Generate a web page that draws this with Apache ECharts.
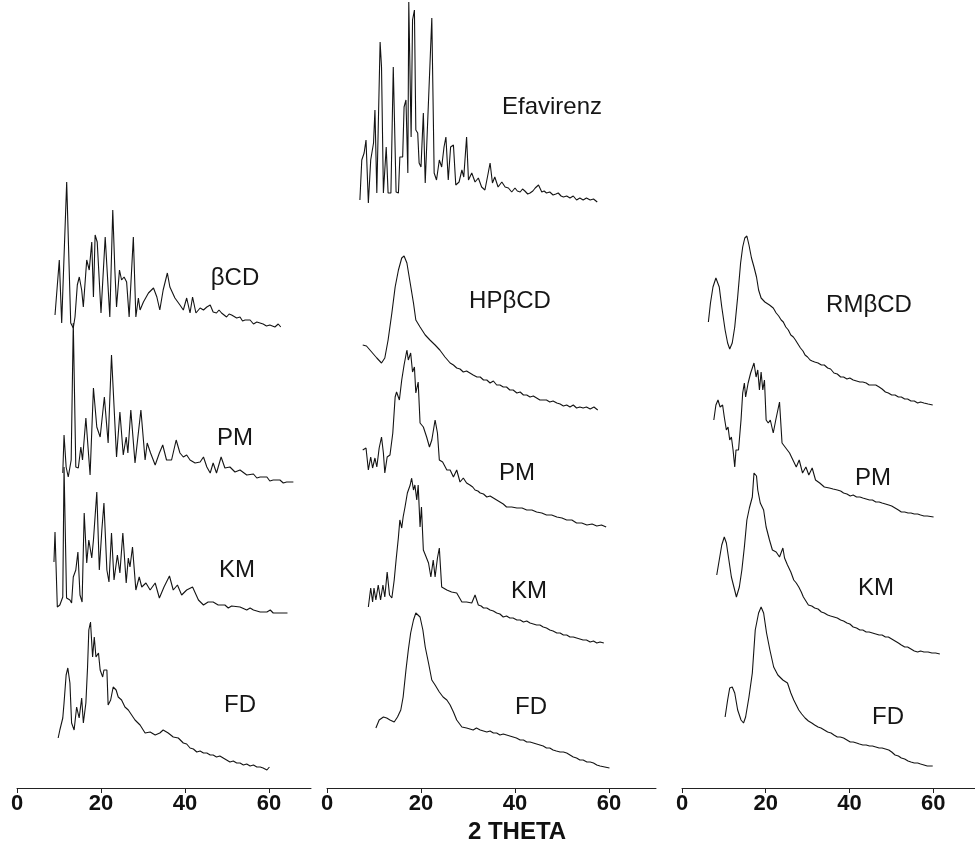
<!DOCTYPE html>
<html><head><meta charset="utf-8">
<script src="https://cdn.jsdelivr.net/npm/echarts@6/dist/echarts.min.js"></script>
<style>html,body{margin:0;padding:0;background:#fff}#c{width:975px;height:848px}</style>
</head><body><div id="c"></div><script>
// ---- axis ticks ----
const tickLabels = [0, 20, 40, 60];
const axisLabelText = '2 THETA';

// ---- data: [2θ (deg), relative intensity] ----
// Left panel (βCD)
const bCD = [[9.05,15],[10.07,70],[10.64,7],[11.83,148],[12.79,7],[13.4,2],[13.81,13],[14.36,45],[14.83,53],[15.4,40],[15.79,23],[16.6,70],[17.2,60],[17.8,88],[18.2,33],[18.6,95],[19.1,88],[20,17],[21,93],[21.4,93],[22.1,13],[22.8,120],[23.3,60],[23.7,23],[24.4,60],[24.9,50],[25.5,53],[26.1,48],[26.7,13],[27.7,93],[28.3,13],[28.9,32],[29.3,20],[30.1,28],[31.3,37],[32.5,42],[33.3,33],[34,20],[34.8,40],[35.8,57],[36.4,43],[36.8,45],[37.6,32],[38.8,25],[39.6,20],[40.4,32],[41.2,17],[41.8,33],[42.6,17],[43.6,22],[44.4,20],[45.2,23],[46,25],[46.7,18],[47.5,17],[48.1,20],[48.7,17],[49.9,13],[50.5,16],[51.1,15],[52.3,12],[53.1,13],[53.7,9],[54.3,10],[55.5,10],[56.3,6],[57.1,8],[58.6,6],[59.4,4],[60.2,5],[61.4,3],[62.2,6],[62.8,3]];
const bPM = [[10.9,12],[11.2,50],[11.7,18],[12.2,8],[12.9,25],[13.4,162],[14,18],[14.6,17],[15.2,38],[15.6,25],[16.4,67],[17.4,10],[18.2,97],[19,58],[19.8,48],[20.8,88],[21.7,42],[22.5,130],[22.9,128],[23.7,28],[24.5,73],[25.3,30],[26,48],[26.4,32],[27.1,75],[28.1,22],[29.5,75],[30.5,25],[31,42],[31.8,32],[32.9,20],[33.9,32],[34.7,40],[35.6,25],[36.8,25],[37.9,45],[38.8,32],[39.6,28],[40.4,30],[41.2,25],[42.4,22],[43.6,23],[44.4,28],[45.2,18],[46,12],[46.7,22],[47.5,12],[48.6,28],[49.5,17],[50.7,18],[51.9,13],[53.1,15],[54.7,10],[56.3,11],[57.1,7],[57.9,8],[59.5,8],[60.2,4],[61,5],[62.6,5],[63.4,2],[64.2,3],[65.8,3]];
const bKM = [[8.8,50],[9.05,80],[9.6,5],[10.2,7],[10.9,15],[11.2,145],[11.8,14],[12.6,12],[13,9],[13.4,35],[14,42],[14.5,60],[15,17],[15.5,10],[16,99],[16.6,49],[17.1,72],[17.8,54],[18.2,72],[19,120],[19.6,42],[20.2,82],[20.7,109],[21.4,42],[21.9,30],[22.5,79],[23.1,32],[23.9,57],[24.5,39],[25.2,79],[26,29],[26.5,54],[26.9,45],[27.5,65],[28.3,22],[29.1,35],[29.7,25],[30.7,29],[31.7,22],[32.9,29],[33.9,14],[35,25],[36.3,36],[37.2,22],[38.2,27],[39.2,17],[40.4,22],[41.8,25],[43.2,12],[44.4,7],[45.5,10],[46.7,10],[47.9,7],[49.5,7],[50.3,4],[51.1,6],[53.1,5],[54.7,2],[55.5,4],[56.3,2],[57.9,0],[59.5,0],[60.3,2],[61,-1],[62.6,-1],[64.4,-1]];
const bFD = [[9.8,32],[10.2,40],[10.9,52],[11.2,67],[11.7,95],[12.1,102],[12.6,87],[13,47],[13.6,40],[14.2,63],[14.8,52],[15.4,72],[15.8,47],[16.4,67],[16.8,103],[17.1,140],[17.5,148],[18,113],[18.4,133],[18.8,113],[19.4,117],[19.8,100],[20.4,93],[20.7,100],[21.4,100],[21.7,65],[22.3,70],[22.9,83],[23.6,80],[24.1,73],[24.9,70],[25.7,63],[26.5,60],[27.3,55],[28.1,50],[29.3,45],[30.5,37],[31.7,38],[32.9,35],[34,37],[34.8,40],[36,37],[37.2,33],[38.4,32],[39.6,27],[40.4,26],[41.2,22],[42,21],[42.8,18],[43.6,19],[44.4,17],[45.2,17],[46,15],[46.7,15],[47.5,13],[48.3,14],[49.1,12],[49.9,10],[50.7,8],[51.5,9],[52.3,7],[53.1,7],[53.9,5],[54.7,6],[55.5,4],[56.3,5],[57.1,3],[57.9,3],[58.6,2],[59.5,0],[60.1,3]];
// Middle panel (Efavirenz / HPβCD)
const efv = [[7.0,2],[7.4,42],[7.9,49],[8.3,62],[8.8,-1],[9.3,42],[9.9,59],[10.2,92],[10.6,9],[11.3,160],[11.6,135],[12,9],[12.6,55],[13,9],[13.6,9],[14.1,135],[14.7,10],[15.2,9],[15.5,45],[16.1,45],[16.4,95],[16.8,102],[17.2,29],[17.4,200],[17.9,65],[18.2,182],[18.6,192],[18.9,72],[19.3,69],[19.6,39],[20,35],[20.5,89],[20.9,19],[21.3,19],[22.3,184],[22.8,29],[23.3,22],[23.9,42],[24.4,35],[24.9,55],[25.3,65],[25.8,22],[26.3,55],[26.9,57],[27.4,17],[28.1,20],[28.7,32],[29.1,25],[29.7,65],[30.1,22],[30.8,29],[31.5,20],[32.2,24],[32.9,15],[33.6,12],[34.3,29],[34.7,39],[35.2,19],[35.7,25],[36.4,15],[37.2,20],[37.9,15],[38.6,14],[39.3,10],[40,14],[40.5,11],[41.1,10],[41.6,13],[42.1,11],[42.7,8],[43.2,9],[43.8,11],[44.3,14],[45,17],[45.7,10],[46.2,11],[46.7,9],[47.4,10],[48.1,7],[48.7,8],[49.2,9],[49.8,6],[50.3,5],[51,6],[51.7,4],[52.4,6],[53.1,2],[53.8,4],[54.5,2],[55.2,4],[56,2],[56.7,3],[57.5,0]];
const hpPure = [[7.6,65],[8.4,64],[9.5,58],[10.6,52],[11.6,47],[12.3,52],[13,70],[13.8,97],[14.5,123],[15.2,140],[15.9,152],[16.4,154],[17,147],[17.7,127],[18.4,107],[18.9,90],[19.8,83],[20.9,75],[21.9,70],[23,65],[24,60],[25.1,53],[26.2,47],[26.9,45],[27.6,42],[28.3,41],[29,38],[29.7,39],[30.4,37],[31.1,35],[31.9,33],[32.6,33],[33.3,30],[34,30],[34.7,27],[35.4,29],[36.1,25],[36.8,25],[37.5,23],[38.2,23],[38.9,20],[39.6,20],[40.4,17],[41.1,18],[41.8,15],[42.5,15],[43.2,13],[43.9,14],[44.6,12],[45.3,10],[46,10],[46.7,10],[47.4,8],[48.1,9],[48.9,7],[49.6,6],[50.3,4],[51,5],[51.7,3],[52.4,5],[53.1,2],[53.8,3],[54.5,2],[55.2,3],[56,1],[56.8,3],[57.6,0]];
const hpPM = [[7.6,78],[8.3,80],[8.8,58],[9.3,71],[9.7,60],[10.2,70],[10.6,61],[11.1,80],[11.6,91],[12,75],[12.3,55],[12.8,71],[13.4,73],[14,95],[14.5,131],[14.8,136],[15.4,128],[15.9,148],[16.4,163],[17,178],[17.3,168],[17.8,175],[18.2,156],[18.6,161],[18.9,135],[19.4,146],[19.8,105],[20.5,101],[21.2,91],[21.8,81],[22.3,88],[23,108],[23.5,95],[23.9,68],[24.6,66],[25.5,58],[26.2,58],[26.9,51],[27.6,58],[28.3,46],[29,50],[29.7,45],[30.4,43],[31,41],[31.5,38],[32.1,37],[32.6,35],[33.3,34],[34,31],[34.7,32],[35.4,30],[36.1,28],[36.8,26],[37.5,24],[38.2,21],[39.3,21],[40.4,20],[41.5,20],[42.5,18],[43.6,18],[44.6,16],[45.7,15],[46.7,13],[47.8,13],[48.9,11],[50,10],[51,8],[52.1,8],[53.1,5],[54.2,5],[55.3,3],[56.4,4],[57.4,2],[58.4,3],[59.4,1]];
const hpKM = [[8.8,38],[9.3,57],[9.7,43],[10,57],[10.4,45],[10.9,60],[11.4,45],[11.9,60],[12.3,48],[12.8,73],[13.3,50],[13.8,47],[14.3,65],[14.7,85],[15.2,108],[15.5,125],[15.9,117],[16.2,128],[16.6,138],[17.1,152],[17.7,160],[18,167],[18.4,155],[18.7,160],[19.1,145],[19.4,160],[19.8,118],[20.1,138],[20.5,95],[21.1,88],[21.6,82],[22.1,68],[22.6,85],[23,68],[23.5,87],[23.9,97],[24.4,58],[25.5,55],[26.5,53],[27.6,52],[28.7,43],[29.7,43],[30.8,42],[31.5,50],[32.2,40],[32.8,39],[33.3,37],[34,37],[34.7,35],[35.4,34],[36.1,32],[36.8,31],[37.5,28],[38.2,29],[38.9,27],[39.6,27],[40.4,25],[41.1,25],[41.8,23],[42.5,24],[43.2,22],[43.9,21],[44.6,20],[45.3,20],[46,18],[46.7,17],[47.4,15],[48.1,14],[48.9,12],[49.6,12],[50.3,10],[51,10],[51.7,8],[52.4,8],[53.1,7],[53.8,6],[54.5,5],[55.2,5],[56,3],[56.7,4],[57.4,2],[58.1,3],[58.9,2]];
const hpFD = [[10.4,42],[11.1,50],[12,53],[12.7,52],[13.4,50],[14.3,48],[15,53],[15.7,60],[16.2,73],[16.8,100],[17.3,120],[17.8,137],[18.4,150],[18.9,157],[19.3,158],[19.8,153],[20.4,140],[20.9,123],[21.6,107],[22.3,90],[23,85],[23.9,78],[24.7,73],[25.5,70],[26.2,65],[26.9,58],[27.6,50],[28.7,43],[29.7,42],[30.4,41],[31.1,40],[31.8,42],[32.6,40],[33.3,39],[34,38],[34.7,39],[35.4,37],[36.1,37],[36.8,35],[37.5,36],[38.2,35],[38.9,34],[39.6,33],[40.3,32],[41.1,30],[41.8,30],[42.5,28],[43.2,28],[43.9,27],[44.6,26],[45.3,25],[46,24],[46.7,22],[47.4,22],[48.1,20],[48.8,19],[49.6,18],[50.3,18],[51,17],[51.7,15],[52.4,13],[53.1,12],[53.8,10],[54.5,10],[55.3,8],[56,8],[56.7,7],[57.4,5],[58.1,4],[59.1,3],[60.1,2]];
// Right panel (RMβCD)
const rmPure = [[6.3,84],[6.8,103],[7.4,119],[8.1,128],[8.9,119],[9.5,99],[10.3,76],[10.9,63],[11.4,57],[12,63],[12.6,79],[13.3,109],[14,143],[14.5,159],[15,168],[15.5,170],[16,161],[16.6,148],[17.2,139],[17.8,129],[18.3,116],[18.9,108],[19.8,104],[20.9,101],[21.8,98],[22.5,93],[23.1,90],[23.7,86],[24.2,84],[24.8,79],[25.4,76],[26,71],[26.6,69],[27.1,66],[27.7,62],[28.3,58],[28.9,55],[29.4,51],[30,49],[30.6,46],[31.1,45],[31.7,44],[32.5,43],[33.3,41],[34,41],[34.8,38],[35.5,37],[36.3,33],[37.1,32],[37.9,29],[38.6,29],[39.4,27],[40.1,28],[40.9,26],[41.7,25],[42.5,24],[43.2,24],[44,23],[44.7,21],[45.5,21],[46.3,21],[47.1,19],[47.8,17],[48.6,14],[49.3,13],[50.1,11],[50.9,11],[51.7,9],[52.4,9],[53.2,7],[53.9,7],[54.7,5],[55.5,5],[56.3,3],[57,4],[57.8,3],[58.8,2],[59.9,1]];
const rmPM = [[7.6,100],[8.1,115],[8.6,120],[9.1,113],[9.7,115],[10.1,103],[10.6,90],[11,93],[11.4,80],[11.8,83],[12.2,70],[12.6,53],[12.9,70],[13.5,70],[14.1,100],[14.5,127],[14.9,137],[15.2,123],[15.8,137],[16.4,147],[17.2,157],[17.7,143],[18.1,150],[18.5,130],[18.9,148],[19.3,130],[19.7,140],[20.1,100],[20.6,97],[21.1,100],[21.8,87],[22.4,100],[23.3,118],[23.9,77],[24.8,72],[25.7,67],[26.5,60],[27.3,53],[28,60],[28.8,47],[29.6,53],[30.3,45],[31.1,52],[31.9,40],[32.9,37],[34,33],[35.2,32],[36.1,31],[37.1,30],[37.9,29],[38.6,27],[39.4,26],[40.2,24],[40.9,25],[41.7,23],[42.5,23],[43.2,22],[44,21],[44.8,20],[45.5,20],[46.3,18],[47.1,18],[47.8,17],[48.6,16],[49.4,15],[50.1,14],[50.9,12],[51.7,10],[52.4,8],[53.2,8],[54,7],[54.7,7],[55.5,6],[56.3,6],[57,5],[57.8,4],[58.6,4],[60.1,3]];
const rmKM = [[8.3,80],[8.9,95],[9.5,110],[10.1,118],[10.6,112],[11.2,95],[11.8,78],[12.4,68],[13,58],[13.7,68],[14.3,85],[14.9,108],[15.5,135],[16.1,147],[16.8,158],[17.2,182],[17.8,179],[18.1,165],[18.7,152],[19.5,145],[20.1,128],[20.9,115],[21.6,105],[22.5,103],[23.3,98],[24.1,107],[24.5,97],[25.2,90],[26,83],[26.7,75],[27.3,72],[27.9,68],[28.5,63],[29,58],[29.6,54],[30.2,50],[31,49],[31.7,47],[32.5,46],[33.3,43],[34,42],[34.8,40],[35.5,39],[36.3,38],[37.1,37],[37.9,35],[38.6,34],[39.4,32],[40.1,31],[40.9,28],[41.7,27],[42.5,25],[43.2,25],[44,23],[44.7,23],[45.5,22],[46.3,21],[47.1,20],[47.8,20],[48.6,18],[49.3,18],[50.1,16],[50.9,14],[51.7,12],[52.4,10],[53.2,8],[53.9,8],[54.7,6],[55.5,4],[56.3,3],[57,4],[57.8,3],[58.8,3],[59.7,2],[60.6,2],[61.6,1]];
const rmFD = [[10.3,51],[10.9,68],[11.4,80],[12,81],[12.6,75],[13.3,58],[14.1,48],[14.7,45],[15.2,51],[16,71],[16.8,95],[17.5,138],[18.3,155],[18.9,161],[19.5,155],[20.2,135],[21,118],[21.9,101],[22.9,93],[24.1,88],[25.2,85],[26,75],[26.7,68],[27.3,63],[27.9,58],[28.6,54],[29.4,50],[30.2,47],[31,45],[31.7,43],[32.5,41],[33.2,40],[34,38],[34.8,36],[35.6,35],[36.3,33],[37.1,31],[37.8,31],[38.6,30],[39.4,28],[40.2,26],[40.9,26],[41.7,25],[42.4,24],[43.2,23],[44,23],[44.8,22],[45.5,22],[46.3,21],[47.1,20],[47.8,20],[48.6,19],[49.4,18],[50.1,16],[50.9,13],[51.7,12],[52.4,10],[53.2,9],[54,7],[54.7,6],[55.5,5],[56.3,5],[57,4],[57.8,3],[58.6,2],[59.9,2]];

// ---- layout (pixels) ----
const X_MAX = 70;
const AXIS_Y = 788;
const panels = [
  {left: 17, width: 294, traces: [
    {data: bCD, base: 330, name: 'βCD', lx: 235, ly: 278},
    {data: bPM, base: 485, name: 'PM', lx: 235, ly: 438},
    {data: bKM, base: 612, name: 'KM', lx: 237, ly: 570},
    {data: bFD, base: 770, name: 'FD', lx: 240, ly: 705}]},
  {left: 327, width: 329, traces: [
    {data: efv, base: 202, name: 'Efavirenz', lx: 552, ly: 107},
    {data: hpPure, base: 410, name: 'HPβCD', lx: 510, ly: 301},
    {data: hpPM, base: 528, name: 'PM', lx: 517, ly: 473},
    {data: hpKM, base: 645, name: 'KM', lx: 529, ly: 591},
    {data: hpFD, base: 770, name: 'FD', lx: 531, ly: 707}]},
  {left: 682, width: 304.5, traces: [
    {data: rmPure, base: 406, name: 'RMβCD', lx: 869, ly: 305},
    {data: rmPM, base: 520, name: 'PM', lx: 873, ly: 478},
    {data: rmKM, base: 655, name: 'KM', lx: 876, ly: 588},
    {data: rmFD, base: 768, name: 'FD', lx: 888, ly: 717}]}
];

const H = 848;
const grid = [], xAxis = [], yAxis = [], series = [], graphic = [];
panels.forEach(p => {
  const gi = grid.length;
  grid.push({left: p.left, width: p.width, bottom: H - AXIS_Y, height: 10});
  xAxis.push({gridIndex: gi, type: 'value', min: 0, max: X_MAX,
    axisLine: {show: true, lineStyle: {color: '#222', width: 1}},
    axisTick: {show: true, length: 5, inside: false, customValues: tickLabels, lineStyle: {color: '#222'}},
    axisLabel: {show: true, customValues: tickLabels, fontSize: 22, fontWeight: 'bold', color: '#111',
      fontFamily: '"Liberation Sans", Arial, sans-serif', margin: 5},
    splitLine: {show: false}});
  yAxis.push({gridIndex: gi, type: 'value', show: false, min: 0, max: 1});
  p.traces.forEach(t => {
    const i = grid.length;
    grid.push({left: p.left, width: p.width, bottom: H - t.base, height: 100});
    xAxis.push({gridIndex: i, type: 'value', min: 0, max: X_MAX, show: false});
    yAxis.push({gridIndex: i, type: 'value', min: 0, max: 100, show: false});
    series.push({type: 'line', xAxisIndex: i, yAxisIndex: i, data: t.data, showSymbol: false,
      symbol: 'none', clip: false, silent: true, animation: false,
      lineStyle: {color: '#141414', width: 1.1}});
    graphic.push({type: 'text', x: t.lx, y: t.ly, silent: true,
      style: {text: t.name, fontSize: 24, fontFamily: '"Liberation Sans", Arial, sans-serif',
        fill: '#161616', align: 'center', verticalAlign: 'middle'}});
  });
});
graphic.push({type: 'text', x: 517, y: 832, silent: true,
  style: {text: axisLabelText, fontSize: 24, fontWeight: 'bold', fontFamily: '"Liberation Sans", Arial, sans-serif',
    fill: '#111', align: 'center', verticalAlign: 'middle'}});

const chart = echarts.init(document.getElementById('c'), null, {renderer: 'canvas'});
chart.setOption({animation: false, backgroundColor: '#fff', grid, xAxis, yAxis, series, graphic});
</script></body></html>
